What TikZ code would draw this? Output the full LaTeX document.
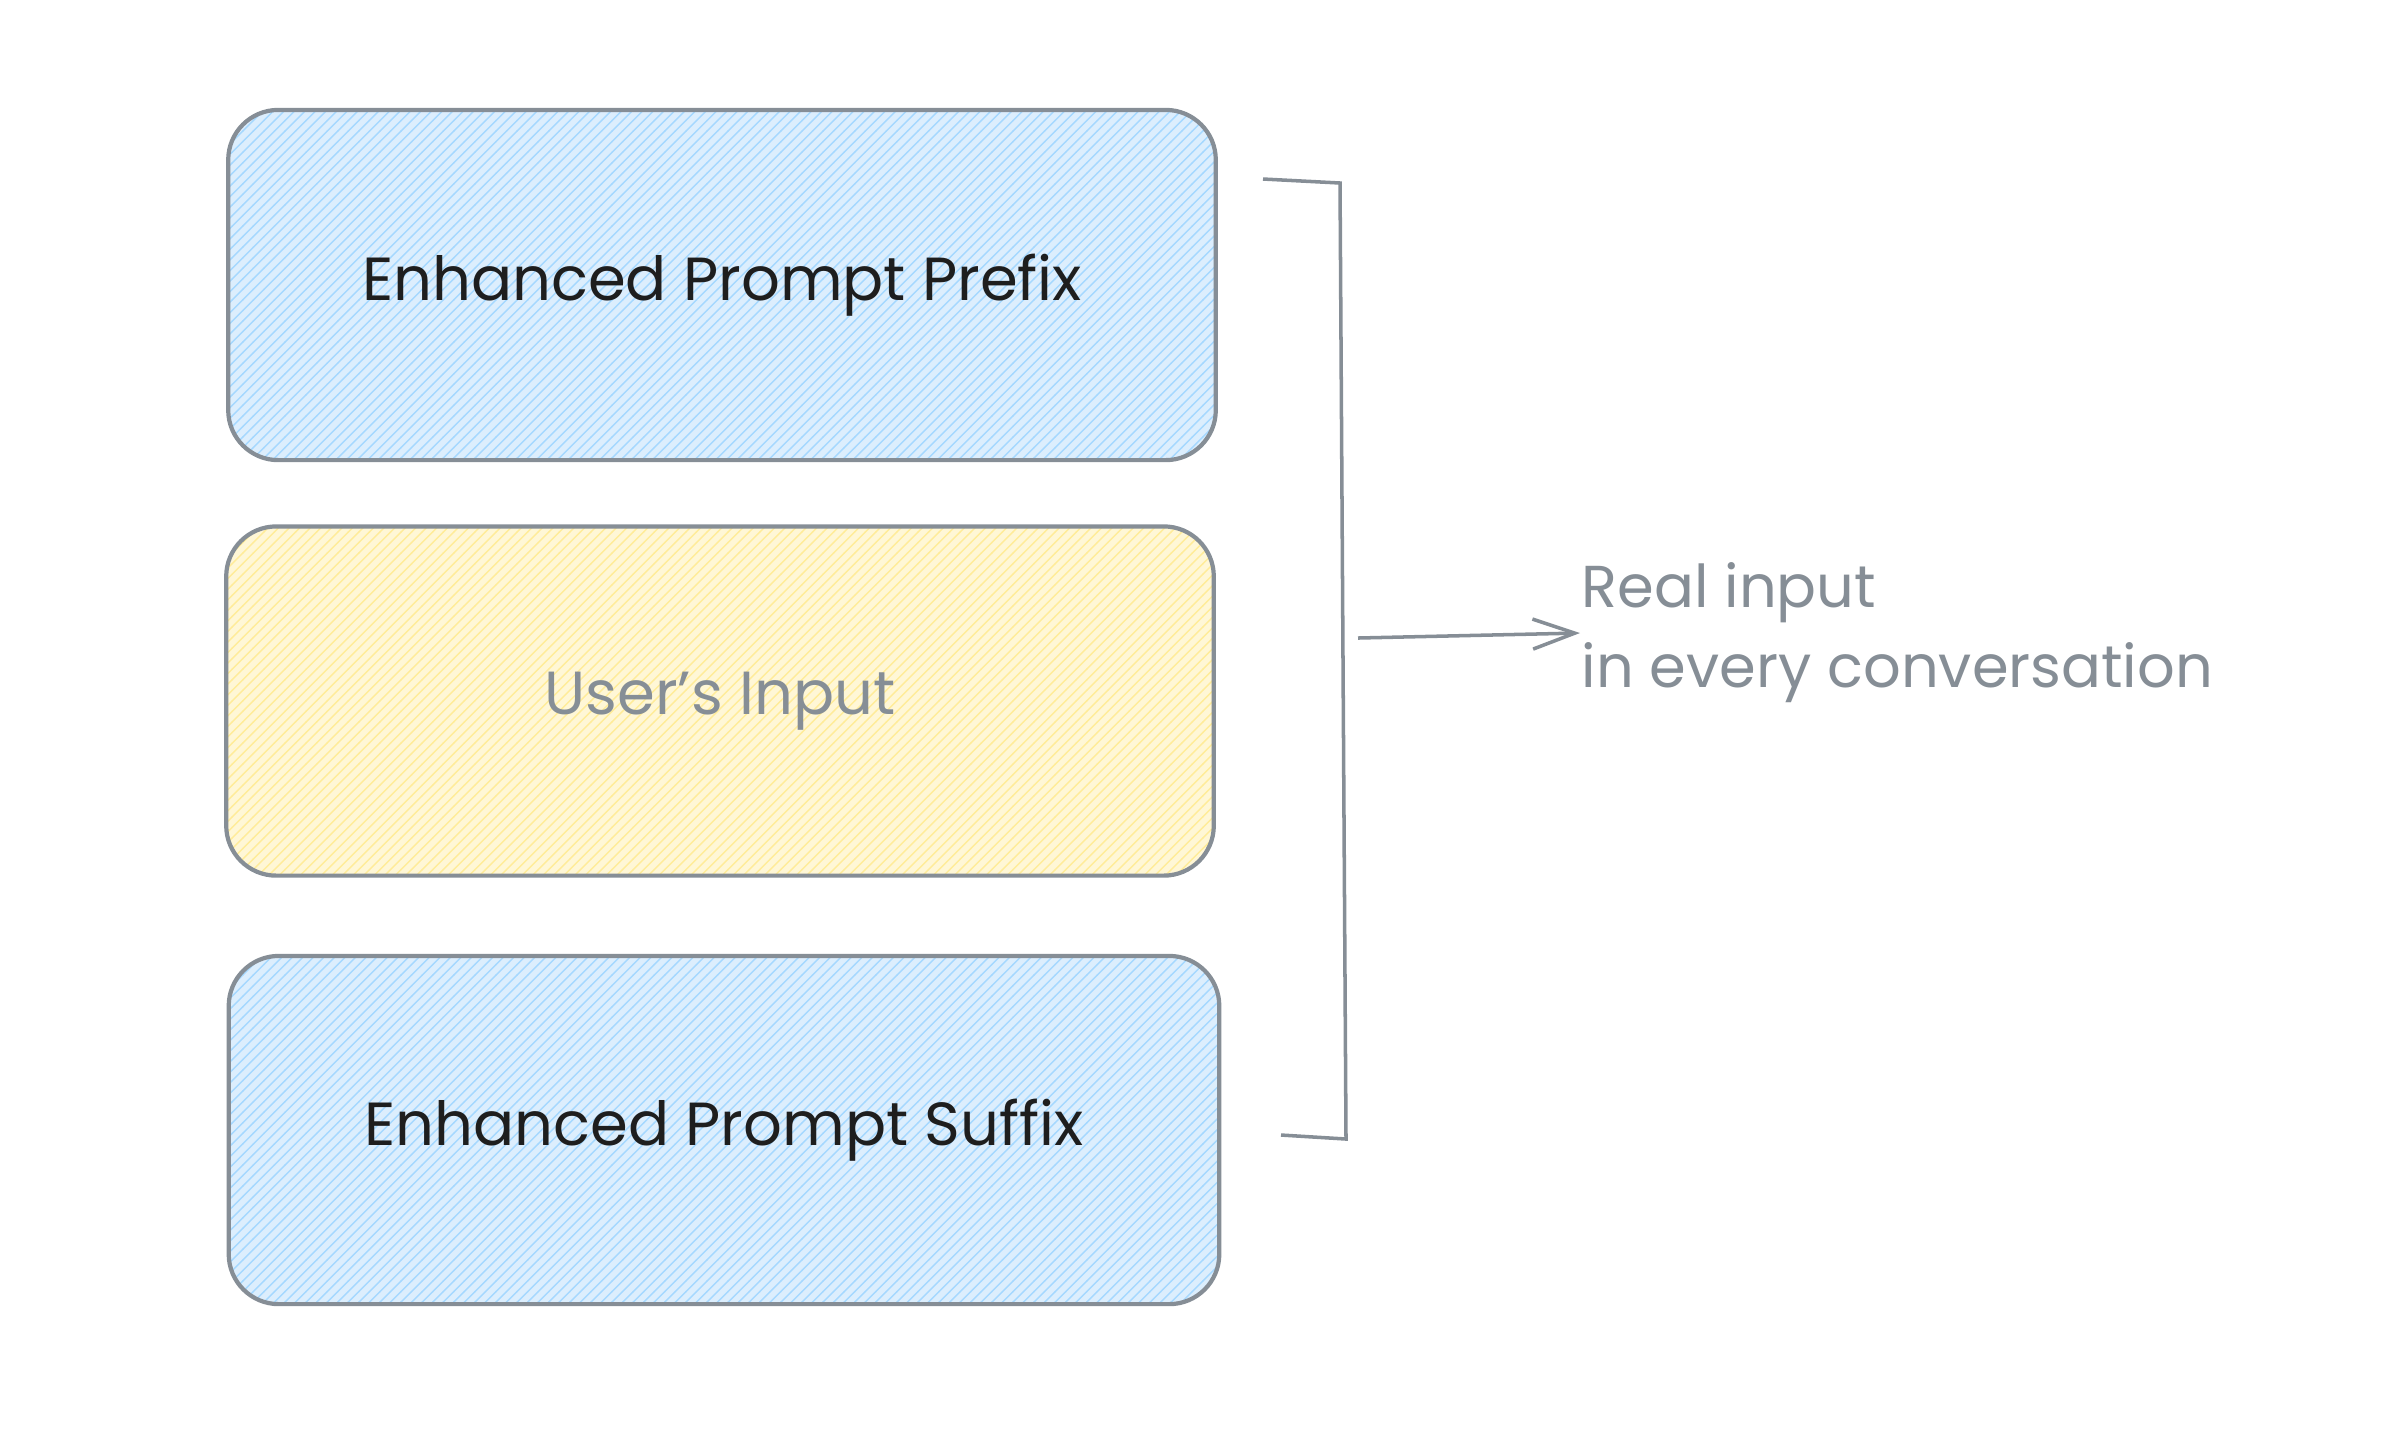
\documentclass[tikz,border=0pt]{standalone}
\usepackage{fontspec}
\setmainfont{Poppins}
\usepackage{tikz}
\usetikzlibrary{arrows.meta}
\usetikzlibrary{patterns}
\definecolor{strokegray}{HTML}{868E96}
\definecolor{inkblack}{HTML}{1E1E1E}
\definecolor{bluefill}{HTML}{DCEEFD}
\definecolor{bluehatch}{HTML}{A5D8FF}
\definecolor{yellowfill}{HTML}{FFF7D6}
\definecolor{yellowhatch}{HTML}{FFEC99}
\tikzset{basic/.style={draw=strokegray,line width=1.2pt,rounded corners=0.5cm,
                       text badly centered,font=\fontsize{17.3}{20}\selectfont}}
\tikzset{bluebox/.style={basic,preaction={fill=bluefill},
                         preaction={pattern=north east lines,pattern color=bluehatch}}}
\tikzset{yellowbox/.style={basic,preaction={fill=yellowfill},
                           preaction={pattern=north east lines,pattern color=yellowhatch}}}

\begin{document}
\begin{tikzpicture}[x=0.01cm,y=-0.01cm,draw=strokegray,line width=1pt]
    \tikzstyle{annot}=[text=strokegray,align=left,anchor=west,inner sep=0pt,
                       font=\fontsize{16.8}{22.8}\selectfont]
    \useasboundingbox (0,0) rectangle (2398,1450);

    \node[bluebox,minimum width=9.87cm,minimum height=3.5cm,text=inkblack] (prefix) at (722,285)
        {Enhanced Prompt Prefix};
    \node[yellowbox,minimum width=9.87cm,minimum height=3.49cm,text=strokegray] (userin) at (720,701)
        {User's Input};
    \node[bluebox,minimum width=9.9cm,minimum height=3.48cm,text=inkblack] (suffix) at (724,1130)
        {Enhanced Prompt Suffix};

    % bracket
    \coordinate (brtl) at (1263,179);
    \coordinate (brtr) at (1340,183);
    \coordinate (brbr) at (1346,1139);
    \coordinate (brbl) at (1281,1135);
    \coordinate (brmid) at (1358,638);
    \draw (brtl) -- (brtr) -- (brbr) -- (brbl);

    % Labels
    \node[annot] (real) at (1580,633) {Real input\\in every conversation};
    \draw[-{Straight Barb[length=0.42cm,width=0.3cm]}] (brmid) -- (real.west);
\end{tikzpicture}
\end{document}
